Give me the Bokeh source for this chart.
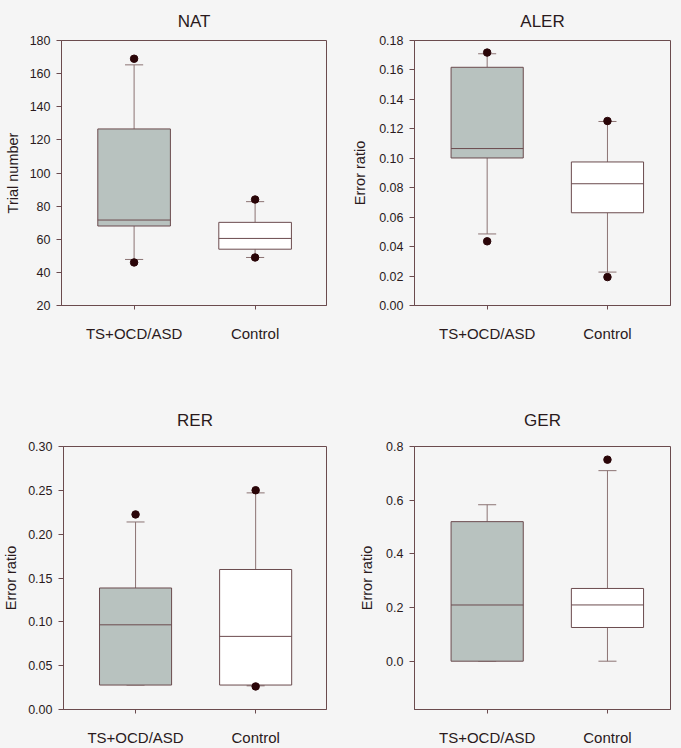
from bokeh.plotting import figure
from bokeh.layouts import column, row
from bokeh.models import FixedTicker, ColumnDataSource, GlobalInlineStyleSheet
from bokeh.embed import file_html
from bokeh.resources import INLINE

# ---------------- data ----------------
groups = ["TS+OCD/ASD", "Control"]
group_pos = [1, 2]

titles = ["NAT", "ALER", "RER", "GER"]
ylabels = ["Trial number", "Error ratio", "Error ratio", "Error ratio"]

# per-panel box statistics: [TS+OCD/ASD, Control]
nat_lo = [47.8, 49.0]
nat_q1 = [68.0, 54.0]
nat_med = [71.6, 60.5]
nat_q3 = [126.6, 70.2]
nat_hi = [165.3, 82.7]
nat_out_x = [1, 1, 2, 2]
nat_out_y = [169.0, 46.0, 84.0, 49.0]

aler_lo = [0.0486, 0.0227]
aler_q1 = [0.1002, 0.0630]
aler_med = [0.1066, 0.0827]
aler_q3 = [0.1618, 0.0975]
aler_hi = [0.1710, 0.1250]
aler_out_x = [1, 1, 2, 2]
aler_out_y = [0.1718, 0.0436, 0.1253, 0.0193]

rer_lo = [0.0279, 0.0270]
rer_q1 = [0.0279, 0.0279]
rer_med = [0.0966, 0.0834]
rer_q3 = [0.1386, 0.1597]
rer_hi = [0.2139, 0.2471]
rer_out_x = [1, 2, 2]
rer_out_y = [0.2225, 0.2501, 0.0263]

ger_lo = [0.0, 0.0]
ger_q1 = [0.0, 0.1256]
ger_med = [0.2094, 0.2096]
ger_q3 = [0.520, 0.271]
ger_hi = [0.583, 0.710]
ger_out_x = [2]
ger_out_y = [0.751]

nat_ticks = [20, 40, 60, 80, 100, 120, 140, 160, 180]
aler_ticks = [0.00, 0.02, 0.04, 0.06, 0.08, 0.10, 0.12, 0.14, 0.16, 0.18]
rer_ticks = [0.00, 0.05, 0.10, 0.15, 0.20, 0.25, 0.30]
ger_ticks = [0.0, 0.2, 0.4, 0.6, 0.8]

# ---------------- style ----------------
BG = "#f5f5f5"
FRAME = "#6b4b4e"
WHISK = "#8b7373"
FILLS = ["#b8c2bf", "#ffffff"]
DOT = "#2a0508"
TXT = "#2a1a1c"
FONT = "Liberation Sans"

BOX_W = 0.6
CAP_W = 0.15


def panel(title, ylabel, lo, q1, med, q3, hi, ox, oy, yr, ticks, fmt, xr,
          width, height, bl, br, bt, bb, tstand, lstand):
    p = figure(width=width, height=height, output_backend="svg",
               toolbar_location=None, x_range=xr, y_range=yr,
               min_border_left=bl, min_border_right=br,
               min_border_top=bt, min_border_bottom=bb,
               styles={"background-color": BG})
    p.background_fill_color = BG
    p.border_fill_color = BG
    p.outline_line_color = FRAME
    p.outline_line_width = 1
    p.xgrid.visible = False
    p.ygrid.visible = False

    p.title.text = title
    p.title.align = "center"
    p.title.text_font = FONT
    p.title.text_font_size = "17px"
    p.title.text_font_style = "normal"
    p.title.text_color = TXT
    p.title.standoff = tstand

    box_l = [x - BOX_W / 2 for x in group_pos]
    box_r = [x + BOX_W / 2 for x in group_pos]
    cap_l = [x - CAP_W / 2 for x in group_pos]
    cap_r = [x + CAP_W / 2 for x in group_pos]
    src = ColumnDataSource(dict(x=group_pos, lo=lo, q1=q1, med=med, q3=q3,
                                hi=hi, fill=FILLS, bl=box_l, br=box_r,
                                cl=cap_l, cr=cap_r))
    # whiskers
    p.segment(x0="x", y0="q3", x1="x", y1="hi", source=src,
              line_color=WHISK, line_width=1)
    p.segment(x0="x", y0="lo", x1="x", y1="q1", source=src,
              line_color=WHISK, line_width=1)
    # caps
    p.segment(x0="cl", y0="hi", x1="cr", y1="hi", source=src,
              line_color=WHISK, line_width=1)
    p.segment(x0="cl", y0="lo", x1="cr", y1="lo", source=src,
              line_color=WHISK, line_width=1)
    # boxes
    p.vbar(x="x", width=BOX_W, bottom="q1", top="q3", source=src,
           fill_color="fill", line_color=FRAME, line_width=1)
    # medians
    p.segment(x0="bl", y0="med", x1="br", y1="med", source=src,
              line_color=FRAME, line_width=1)
    # outliers
    if len(ox):
        p.scatter(x=ox, y=oy, size=7.5, marker="circle",
                  fill_color=DOT, line_color=DOT)

    for ax in (p.xaxis[0], p.yaxis[0]):
        ax.axis_line_color = FRAME
        ax.major_tick_line_color = FRAME
        ax.major_tick_in = 0
        ax.major_tick_out = 5
        ax.minor_tick_line_color = None
        ax.major_label_text_font = FONT
        ax.major_label_text_color = TXT
        ax.axis_label_text_font = FONT
        ax.axis_label_text_color = TXT
        ax.axis_label_text_font_style = "normal"

    p.xaxis.ticker = FixedTicker(ticks=group_pos)
    p.xaxis.major_label_overrides = {g: n for g, n in zip(group_pos, groups)}
    p.xaxis.major_label_text_font_size = "15px"
    p.xaxis.major_label_standoff = 15
    p.xaxis.major_tick_out = 4

    p.yaxis.ticker = FixedTicker(ticks=ticks)
    p.yaxis.major_label_overrides = {t: fmt.format(t) for t in ticks}
    p.yaxis.major_label_text_font_size = "12.5px"
    p.yaxis.major_label_standoff = 6
    p.yaxis.axis_label = ylabel
    p.yaxis.axis_label_text_font_size = "14.5px"
    p.yaxis.axis_label_standoff = lstand
    return p


p1 = panel(titles[0], ylabels[0], nat_lo, nat_q1, nat_med, nat_q3, nat_hi,
           nat_out_x, nat_out_y, (20, 180), nat_ticks, "{:.0f}", (0.40, 2.59),
           340, 370, 61, 14, 40, 65, 19, 6)
p2 = panel(titles[1], ylabels[1], aler_lo, aler_q1, aler_med, aler_q3, aler_hi,
           aler_out_x, aler_out_y, (0, 0.18), aler_ticks, "{:.2f}", (0.396, 2.524),
           341, 370, 74, 11, 40, 65, 19, 8)
p3 = panel(titles[2], ylabels[2], rer_lo, rer_q1, rer_med, rer_q3, rer_hi,
           rer_out_x, rer_out_y, (0, 0.30), rer_ticks, "{:.2f}", (0.40, 2.59),
           340, 378, 61, 14, 76, 38, 33, 6)
p4 = panel(titles[3], ylabels[3], ger_lo, ger_q1, ger_med, ger_q3, ger_hi,
           ger_out_x, ger_out_y, (-0.18, 0.8), ger_ticks, "{:.1f}", (0.396, 2.524),
           341, 378, 74, 11, 76, 38, 33, 8)

bg_css = GlobalInlineStyleSheet(css="html, body { background-color: #f5f5f5; }")
layout = column(row(p1, p2, spacing=0, styles={"background-color": BG}),
                row(p3, p4, spacing=0, styles={"background-color": BG}),
                spacing=0, styles={"background-color": BG},
                stylesheets=[bg_css])

open("out.html", "w").write(file_html(layout, INLINE))
